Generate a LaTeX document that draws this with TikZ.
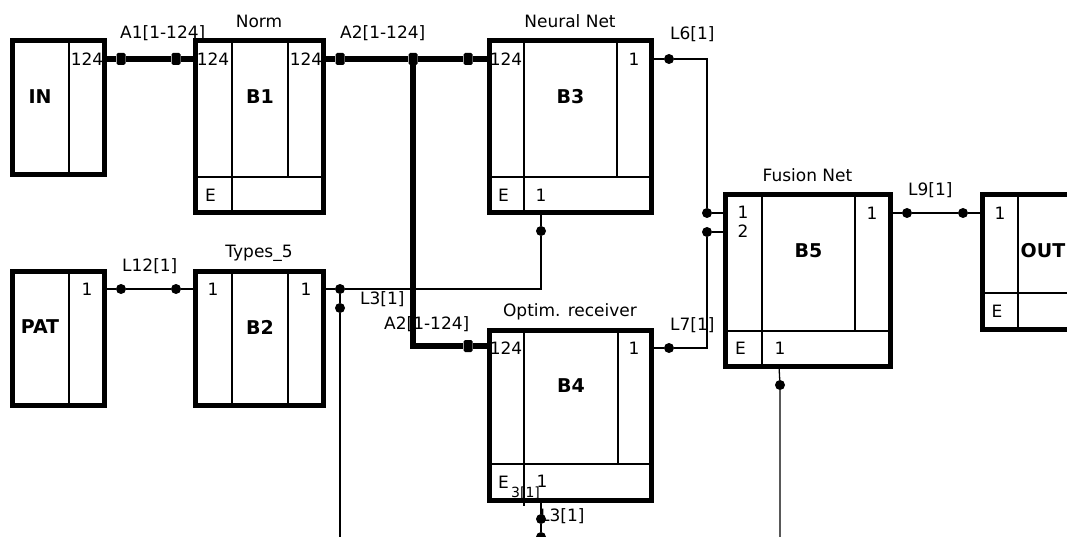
\documentclass[tikz,border=0pt]{standalone}
\usepackage{fontspec}
\setmainfont{DejaVu Sans}
\usetikzlibrary{calc}
\newcommand{\PortDy}{18}
\newcommand{\NameDy}{56}
\newcommand{\TitleUp}{13.5pt}
\newcommand{\Bottom}{548}

\begin{document}
\begin{tikzpicture}[
    x=1pt, y=-1pt,
    font=\fontsize{17}{20}\selectfont,
    block/.style={draw, line width=5pt, fill=white, inner sep=0pt, outer sep=0pt},
    cell/.style={line width=1.2pt},
    wire/.style={line width=1.3pt},
    bus/.style={line width=6.5pt},
    dot/.style={circle, fill, inner sep=0pt, minimum size=10pt},
    busdot/.style={rectangle, fill, rounded corners=1.5pt, inner sep=0pt, minimum width=9pt, minimum height=12pt},
    port/.style={inner sep=0pt},
    bname/.style={inner sep=0pt, font=\fontsize{19}{22}\selectfont\bfseries},
    title/.style={anchor=base, inner sep=0pt},
    tag/.style={anchor=base west, inner sep=0pt},
  ]

\clip (0,0) rectangle (1067,537);

% --- Blocks with inputs, outputs and an E row -------------------------------
\foreach \n/\lab/\ttl/\xa/\ya/\xb/\yb/\ca/\cb/\ey in {b1/B1/Norm/195/41/323/213/232/288/177, b3/B3/Neural Net/489/41/651/213/524/617/177, b4/B4/Optim. receiver/489/330/651/500/524/618/464, b5/B5/Fusion Net/725/195/890/366/762/855/331} {
  \pgfmathsetmacro{\w}{\xb-\xa}
  \pgfmathsetmacro{\h}{\yb-\ya}
  \node[block, minimum width=\w pt, minimum height=\h pt] (\n) at ({(\xa+\xb)/2}, {(\ya+\yb)/2}) {};
  \draw[cell] (\ca, \ya) -- (\ca, \yb);
  \draw[cell] (\cb, \ya) -- (\cb, \ey);
  \draw[cell] (\xa, \ey) -- (\xb, \ey);
  \node[bname] (\n-name) at ({(\ca+\cb)/2}, \ya+\NameDy) {\lab};
  \node[title] (\n-title) at ([yshift=\TitleUp]\n.north) {\ttl};
  \node[port] (\n-E) at ({(\xa+\ca)/2-3}, {(\ey+\yb)/2}) {E};
  \coordinate (\n-in) at (\xa, \ya+\PortDy);
  \coordinate (\n-out) at (\xb, \ya+\PortDy);
  \coordinate (\n-e) at (\ca+17, \yb);
}
\coordinate (b5-in2) at (725, 232);
\draw[cell] (b4-e -| 524,0) -- ++(0,6);

% --- Types_5: no E row -------------------------------------------------------
\node[block, minimum width=128pt, minimum height=134pt] (b2) at (259, 338) {};
\draw[cell] (232, 271) -- (232, 405);
\draw[cell] (288, 271) -- (288, 405);
\node[bname] (b2-name) at (260, 271+\NameDy) {B2};
\node[title] (b2-title) at ([yshift=\TitleUp]b2.north) {Types\_5};
\coordinate (b2-in) at (195, 271+\PortDy);
\coordinate (b2-out) at (323, 271+\PortDy);

% --- Sources and the sink ----------------------------------------------------
\foreach \n/\lab/\ya in {in/IN/41, pat/PAT/271} {
  \node[block, minimum width=92pt, minimum height=134pt] (\n) at (58, \ya+67) {};
  \draw[cell] (69, \ya) -- (69, \ya+134);
  \node[bname] (\n-name) at (40, \ya+\NameDy) {\lab};
  \coordinate (\n-out) at (104, \ya+\PortDy);
}
\node[block, minimum width=150pt, minimum height=134pt] (out) at (1057, 262) {};
\draw[cell] (1018, 195) -- (1018, 329);
\draw[cell] (982, 293) -- (1132, 293);
\node[bname] (out-name) at (1043, 195+\NameDy) {OUT};
\node[port] (out-E) at (997, 311) {E};
\coordinate (out-in) at (982, 195+\PortDy);

% --- Port numbers ------------------------------------------------------------
\foreach \x/\y/\txt [count=\i] in {87/59/124, 213/59/124, 306/59/124, 506/59/124, 634/59/1, 541/195/1, 87/289/1, 213/289/1, 306/289/1, 506/348/124, 634/348/1, 542/481/1, 743/212/1, 743/231/2, 872/213/1, 780/348/1, 1000/213/1}
  \node[port] (p\i) at (\x, \y) {\txt};

% --- Wire names --------------------------------------------------------------
\node[tag] (tA1) at (120, 39) {A1[1-124]};
\node[tag] (tA2) at (340, 39) {A2[1-124]};
\node[tag] (tL6) at (670, 40) {L6[1]};
\node[tag] (tL12) at (122, 271) {L12[1]};
\node[tag] (tL3) at (360, 304) {L3[1]};
\node[tag] (tA2b) at (384, 329) {A2[1-124]};
\node[tag] (tL7) at (670, 330) {L7[1]};
\node[tag] (tL9) at (908, 196) {L9[1]};
\node[tag, font=\fontsize{14}{16}\selectfont] (tL3b) at (511, 497) {3[1]};
\node[tag] (tL3c) at (540, 521) {L3[1]};

% --- Thin wires --------------------------------------------------------------
\node[dot] (l12a) at (121, 289) {};
\node[dot] (l12b) at (176, 289) {};
\draw[wire] (pat-out) -- (l12a) -- (l12b) -- (b2-in);

\node[dot] (l3a) at (340, 289) {};
\node[dot] (l3b) at (340, 308) {};
\node[dot] (l3c) at (541, 231) {};
\coordinate (l3end) at (340, \Bottom);
\draw[wire] (b2-out) -- (l3a) -| (l3c);
\draw[wire] (l3c) -- (b3-e);
\draw[wire] (l3a) -- (l3b) -- (l3end);

\node[dot] (l6a) at (669, 59) {};
\node[dot] (l6b) at (707, 213) {};
\draw[wire] (b3-out) -- (l6a) -| (l6b) -- (b5-in);

\node[dot] (l7a) at (669, 348) {};
\node[dot] (l7b) at (707, 232) {};
\draw[wire] (b4-out) -- (l7a) -| (l7b) -- (b5-in2);

\node[dot] (l9a) at (907, 213) {};
\node[dot] (l9b) at (963, 213) {};
\draw[wire] (b5-out) -- (l9a) -- (l9b) -- (out-in);

\node[dot] (e4a) at (541, 519) {};
\node[dot] (e4b) at (541, 537) {};
\draw[wire] (b4-e) -- (e4a) -- (e4b);

\node[dot] (e5a) at (780, 385) {};
\coordinate (e5end) at (780, \Bottom);
\draw[wire] (b5-e) -- (e5a) -- (e5end);

% --- Buses -------------------------------------------------------------------
\node[busdot] (a1a) at (121, 59) {};
\node[busdot] (a1b) at (176, 59) {};
\draw[bus] (in-out) -- (a1a) -- (a1b) -- (b1-in);

\node[busdot] (a2a) at (340, 59) {};
\node[busdot] (a2j) at (413, 59) {};
\node[busdot] (a2b) at (468, 59) {};
\node[busdot] (a2c) at (468, 346) {};
\draw[bus] (b1-out) -- (a2a) -- (a2j) -- (a2b) -- (b3-in);
\draw[bus] (a2j) |- (a2c) -- (b4-in |- a2c);

\end{tikzpicture}
\end{document}
